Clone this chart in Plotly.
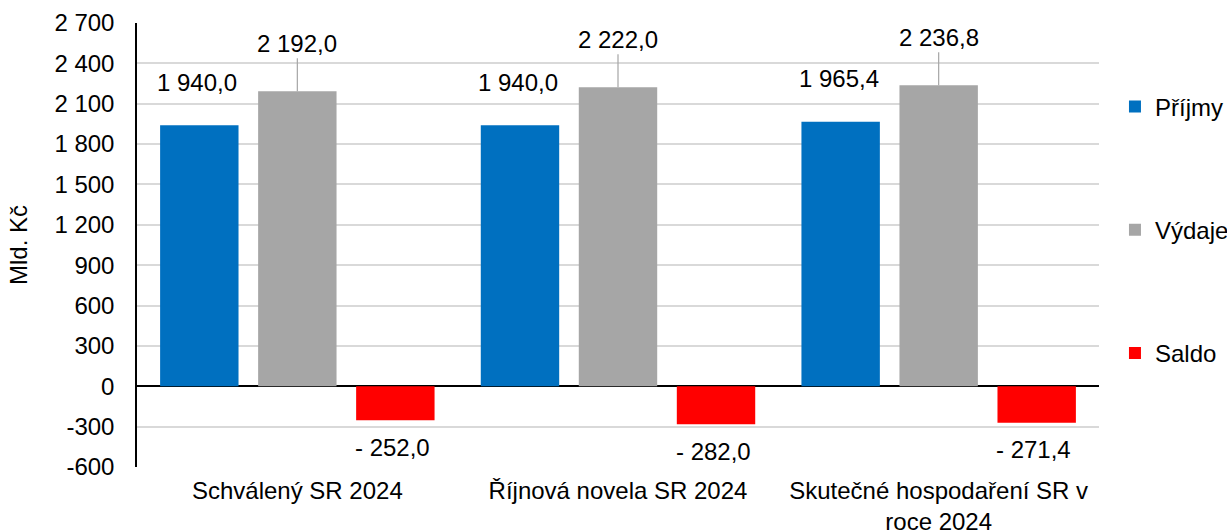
import plotly.graph_objects as go

categories = ["Schválený SR 2024", "Říjnová novela SR 2024", "Skutečné hospodaření SR v<br>roce 2024"]
prijmy = [1940.0, 1940.0, 1965.4]
vydaje = [2192.0, 2222.0, 2236.8]
saldo = [-252.0, -282.0, -271.4]
tick_vals = [-600, -300, 0, 300, 600, 900, 1200, 1500, 1800, 2100, 2400, 2700]
tick_text = ["-600", "-300", "0", "300", "600", "900", "1 200", "1 500", "1 800", "2 100", "2 400", "2 700"]

FONT = "Liberation Sans, Arial, sans-serif"
FS = 24


def fmt(v):
    s = f"{abs(v):,.1f}".replace(",", " ").replace(".", ",")
    return ("- " + s) if v < 0 else s


fig = go.Figure()
series = [("Příjmy", prijmy, "#0070C0"), ("Výdaje", vydaje, "#A6A6A6"), ("Saldo", saldo, "#FF0000")]
for i, (name, vals, col) in enumerate(series):
    fig.add_trace(go.Bar(x=categories, y=vals, name=name, marker=dict(color=col, line=dict(width=0)),
                         offsetgroup=str(i), legendgroup=name))

annotations = []
for j, c in enumerate(categories):
    annotations.append(dict(x=c, y=prijmy[j], xref="x", yref="y", text=fmt(prijmy[j]), showarrow=False,
                            xshift=-98 - 2, yshift=43, font=dict(size=FS, color="#000", family=FONT)))
    annotations.append(dict(x=c, y=vydaje[j], xref="x", yref="y", text=fmt(vydaje[j]), showarrow=True,
                            arrowhead=0, arrowwidth=1.2, arrowcolor="#A6A6A6", ax=0, ay=-48,
                            font=dict(size=FS, color="#000", family=FONT)))
    annotations.append(dict(x=c, y=saldo[j], xref="x", yref="y", text=fmt(saldo[j]), showarrow=False,
                            xshift=98 - 3, yshift=-27, font=dict(size=FS, color="#000", family=FONT)))

fig.update_layout(
    width=1227, height=532,
    margin=dict(l=137, r=128, t=23, b=65, autoexpand=False),
    paper_bgcolor="white", plot_bgcolor="white",
    barmode="group", bargap=0.083, bargroupgap=0.2,
    font=dict(family=FONT, size=FS, color="#000"),
    showlegend=True,
    legend=dict(x=1.0166, xanchor="left", y=0.534, yanchor="middle", tracegroupgap=89,
                font=dict(size=FS, family=FONT), itemwidth=30),
    annotations=annotations,
    xaxis=dict(showgrid=False, showline=False, ticks="", tickfont=dict(size=FS), ticklabelstandoff=7,
               automargin=False),
    yaxis=dict(range=[-600, 2700], tickvals=tick_vals, ticktext=tick_text, showgrid=True,
               gridcolor="#D9D9D9", gridwidth=1.5, showline=True, linecolor="#000", linewidth=1.5,
               zeroline=True, zerolinecolor="#000", zerolinewidth=1.5, ticks="", automargin=False,
               ticklabelstandoff=16,
               tickfont=dict(size=FS), title=dict(text="Mld. Kč", font=dict(size=FS), standoff=20)),
)

fig.write_html("out.html", config={"displayModeBar": False},
               post_script="document.body.style.margin='0';document.body.style.overflow='hidden';")
